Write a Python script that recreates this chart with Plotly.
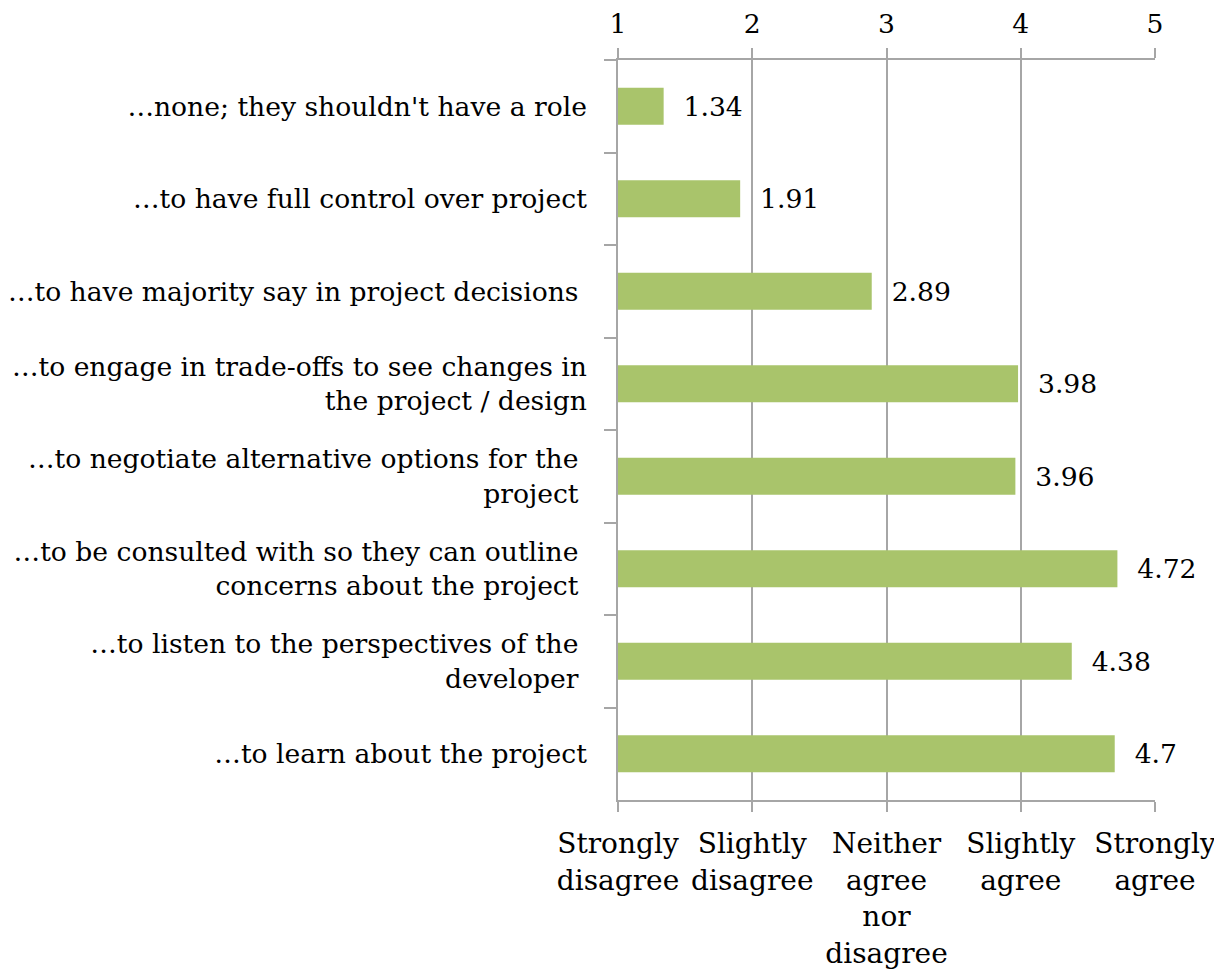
import plotly.graph_objects as go

categories = [
    "…none; they shouldn't have a role",
    "…to have full control over project",
    "…to have majority say in project decisions\u00a0",
    "…to engage in trade-offs to see changes in<br>the project / design",
    "…to negotiate alternative options for the\u00a0<br>project\u00a0",
    "…to be consulted with so they can outline\u00a0<br>concerns about the project\u00a0",
    "…to listen to the perspectives of the\u00a0<br>developer\u00a0",
    "…to learn about the project",
]
values = [1.34, 1.91, 2.89, 3.98, 3.96, 4.72, 4.38, 4.7]
value_labels = ["1.34", "1.91", "2.89", "3.98", "3.96", "4.72", "4.38", "4.7"]
scale_ticks = [1, 2, 3, 4, 5]
scale_labels = [
    "Strongly<br>disagree",
    "Slightly<br>disagree",
    "Neither<br>agree<br>nor<br>disagree",
    "Slightly<br>agree",
    "Strongly<br>agree",
]

FONT = "DejaVu Serif"
GRID = "#a6a6a6"
FS = 26.6

fig = go.Figure()
fig.add_trace(go.Bar(
    y=categories,
    x=[v - 1 for v in values],
    base=1,
    orientation="h",
    marker=dict(color="#a9c46b", line=dict(width=0)),
    text=["\u00a0\u00a0" + t for t in value_labels],
    textposition="outside",
    textfont=dict(family=FONT, size=FS, color="black"),
    cliponaxis=False,
    xaxis="x",
    yaxis="y",
))
# invisible trace to anchor top axis
fig.add_trace(go.Scatter(
    x=[1, 5], y=[categories[0], categories[0]], mode="markers",
    marker=dict(opacity=0), xaxis="x2", yaxis="y", showlegend=False, hoverinfo="skip",
))

fig.update_layout(
    width=1214, height=967,
    margin=dict(l=610, r=67, t=52, b=175, autoexpand=False),
    paper_bgcolor="white", plot_bgcolor="white",
    showlegend=False,
    bargap=0.6,
    font=dict(family=FONT, size=FS, color="black"),
    xaxis=dict(
        range=[1, 5], tickvals=scale_ticks, ticktext=scale_labels,
        side="bottom", showgrid=True, gridcolor=GRID, gridwidth=1.5,
        showline=True, linecolor=GRID, linewidth=1.5,
        ticks="outside", ticklen=10, tickcolor=GRID, tickwidth=1.5,
        tickfont=dict(family=FONT, size=28), zeroline=False,
        ticklabelstandoff=8, automargin=False,
    ),
    xaxis2=dict(
        range=[1, 5], tickvals=scale_ticks, ticktext=[str(t) for t in scale_ticks],
        overlaying="x", side="top", showgrid=False,
        showline=True, linecolor=GRID, linewidth=1.5,
        ticks="outside", ticklen=10, tickcolor=GRID, tickwidth=1.5,
        tickfont=dict(family=FONT, size=FS), zeroline=False,
        ticklabelstandoff=5, automargin=False,
    ),
    yaxis=dict(
        categoryorder="array", categoryarray=categories, autorange="reversed",
        showline=True, linecolor=GRID, linewidth=1.5,
        ticks="outside", ticklen=12, tickcolor=GRID, tickwidth=1.5,
        tickson="boundaries", showgrid=False,
        tickfont=dict(family=FONT, size=FS), ticklabelstandoff=24,
        automargin=False,
    ),
)

fig.write_html("out.html")
